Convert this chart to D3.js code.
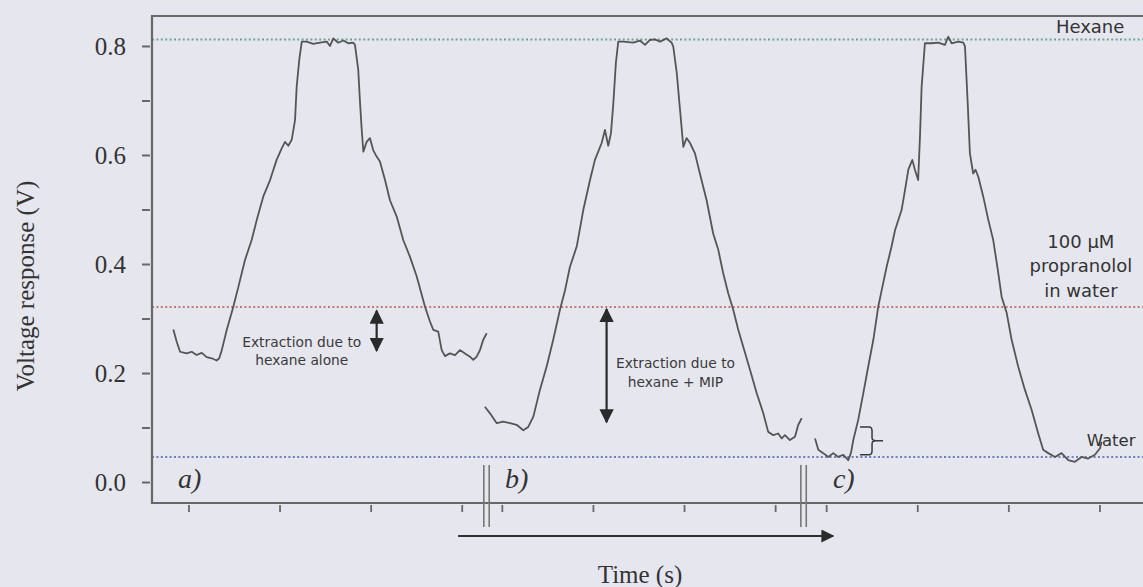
<!DOCTYPE html>
<html>
<head>
<meta charset="utf-8">
<script src="https://cdn.jsdelivr.net/npm/d3@7"></script>
<style>
  html, body { margin: 0; padding: 0; background: #e6e6ee; }
  svg { display: block; }
</style>
</head>
<body>
<svg id="chart" width="1143" height="587"></svg>
<script>
// ---- Sensor trace, run a) hexane alone ----
const timeA = [11.7,13.6,15.4,19.0,21.8,24.5,27.3,30.0,32.8,35.5,36.9,38.3,41.0,44.6,47.4,51.0,54.7,57.5,61.1,64.8,
  68.4,71.2,73.0,74.8,76.7,78.5,79.4,80.8,82.2,
  84.9,88.5,92.2,95.9,97.7,99.5,102.2,105.0,107.7,110.5,
  111.4,113.2,114.2,115.1,116.0,117.8,119.6,121.4,123.3,125.1,127.9,130.6,134.3,137.9,141.6,145.3,149.8,152.6,154.4,157.1,
  159.0,160.8,163.5,166.3,169.0,171.8,174.5,176.3,178.2,180.0,181.8,183.7];
const voltA = [0.280,0.257,0.239,0.236,0.239,0.233,0.237,0.229,0.227,0.223,0.227,0.242,0.279,0.321,0.358,0.407,0.444,0.481,0.524,0.554,
  0.591,0.612,0.624,0.617,0.628,0.664,0.725,0.774,0.808,
  0.808,0.804,0.806,0.808,0.800,0.814,0.806,0.810,0.805,0.806,
  0.802,0.756,0.695,0.646,0.606,0.624,0.631,0.609,0.597,0.588,0.554,0.517,0.487,0.444,0.413,0.377,0.322,0.294,0.279,0.276,
  0.242,0.231,0.236,0.233,0.242,0.236,0.230,0.224,0.230,0.242,0.261,0.273];

// ---- run b) hexane + MIP ----
const timeB = [182.7,185.5,189.2,192.8,196.5,200.1,203.8,206.5,209.3,212.9,216.6,220.2,223.9,226.7,229.4,233.1,236.7,240.4,243.1,246.8,
  248.6,250.4,251.9,253.2,254.6,255.9,
  258.7,264.1,267.8,270.6,273.3,276.0,278.8,282.5,285.2,
  286.1,288.0,289.8,291.6,293.4,295.3,298.0,300.7,304.4,308.0,310.8,313.5,316.3,319.0,321.8,324.5,328.2,331.9,335.5,338.2,
  341.0,343.7,345.6,347.4,350.1,352.9,354.7,356.6];
const voltB = [0.138,0.126,0.108,0.111,0.108,0.105,0.095,0.101,0.120,0.169,0.212,0.261,0.316,0.352,0.395,0.432,0.499,0.554,0.591,0.622,
  0.646,0.617,0.640,0.695,0.769,0.808,
  0.808,0.806,0.810,0.802,0.811,0.812,0.808,0.814,0.806,
  0.799,0.751,0.683,0.615,0.631,0.622,0.603,0.566,0.517,0.456,0.426,0.383,0.346,0.316,0.279,0.248,0.206,0.163,0.126,0.092,
  0.086,0.089,0.080,0.086,0.077,0.083,0.105,0.117];

// ---- run c) ----
const timeC = [363.9,365.7,368.4,371.2,373.9,376.6,379.4,382.1,383.6,384.9,387.6,390.4,393.1,395.9,398.6,400.5,403.2,405.9,407.8,411.4,
  413.3,415.1,417.3,418.7,420.5,421.5,422.4,424.2,
  427.9,431.5,435.2,437.0,438.9,442.5,445.3,
  446.2,447.7,448.9,450.7,452.0,453.5,456.2,459.0,461.7,464.5,466.3,469.1,471.8,475.4,479.1,482.8,486.4,489.1,491.9,495.6,
  499.2,502.9,506.5,510.2,513.8,517.5,520.3,521.2];
const voltC = [0.080,0.059,0.053,0.046,0.053,0.046,0.050,0.040,0.053,0.077,0.114,0.163,0.212,0.261,0.322,0.352,0.395,0.432,0.462,0.499,
  0.536,0.573,0.591,0.573,0.554,0.634,0.725,0.805,
  0.805,0.806,0.802,0.817,0.805,0.808,0.806,
  0.799,0.695,0.603,0.566,0.573,0.560,0.524,0.481,0.444,0.383,0.340,0.310,0.261,0.212,0.169,0.132,0.089,0.059,0.053,0.046,
  0.053,0.040,0.037,0.046,0.043,0.050,0.062,0.074];

// Reference levels (V)
const levelNames  = ["Hexane", "100 µM propranolol in water", "Water"];
const levelValues = [0.812, 0.321, 0.046];
const levelColors = ["#6aa696", "#c7786a", "#6c7fc4"];

// Axis ticks
const yMajorTicks = [0.0, 0.2, 0.4, 0.6, 0.8];
const yMinorTicks = [0.1, 0.3, 0.5, 0.7];
const timeTicks   = [20, 70, 120, 170, 192, 242, 292, 342, 370, 420, 470, 520];
const axisBreaks  = [183.6, 357.6];
const panelLabels = ["a)", "b)", "c)"];
const panelStarts = [14.3, 193.7, 373.7];

// ---- scales ----
const svg = d3.select("#chart");
const x = d3.scaleLinear().domain([0, 545]).range([152, 1145]);
const y = d3.scaleLinear().domain([-0.0385, 0.855]).range([503, 16]);

const serif = "'Liberation Serif', 'Times New Roman', serif";
const sans  = "'DejaVu Sans', sans-serif";
const axisColor = "#686868";

// defs: arrowheads
const defs = svg.append("defs");
defs.append("marker").attr("id", "head").attr("viewBox", "0 0 10 10")
  .attr("refX", 9).attr("refY", 5).attr("markerWidth", 6.5).attr("markerHeight", 6.5)
  .attr("markerUnits", "strokeWidth").attr("orient", "auto-start-reverse")
  .append("path").attr("d", "M0,0 L10,5 L0,10 z").attr("fill", "#2a2a2a");

// reference levels (dotted)
svg.append("g").selectAll("line").data(levelValues).join("line")
  .attr("x1", x(0)).attr("x2", 1143)
  .attr("y1", d => y(d)).attr("y2", d => y(d))
  .attr("stroke", (d, i) => levelColors[i])
  .attr("stroke-width", 2)
  .attr("stroke-dasharray", "2,2.4");

// traces
const line = d3.line().x(d => x(d[0])).y(d => y(d[1]));
const runs = [d3.zip(timeA, voltA), d3.zip(timeB, voltB), d3.zip(timeC, voltC)];
svg.append("g").selectAll("path").data(runs).join("path")
  .attr("d", line)
  .attr("fill", "none")
  .attr("stroke", "#555")
  .attr("stroke-width", 1.8)
  .attr("stroke-linejoin", "round");

// frame (left, top, bottom)
svg.append("path")
  .attr("d", `M1143,${y.range()[1]} H${x(0)} V${y.range()[0]} H1143`)
  .attr("fill", "none").attr("stroke", axisColor).attr("stroke-width", 2.2);

// y axis
const yAxis = d3.axisLeft(y)
  .tickValues(yMajorTicks.concat(yMinorTicks))
  .tickSize(8).tickPadding(16)
  .tickFormat(d => yMajorTicks.includes(d) ? d3.format(".1f")(d) : "");
const gy = svg.append("g").attr("transform", `translate(${x(0) - 2},0)`).call(yAxis);
gy.select(".domain").remove();
gy.selectAll(".tick line").attr("stroke", axisColor).attr("stroke-width", 2);
gy.selectAll(".tick text").attr("font-family", serif).attr("font-size", 25)
  .attr("fill", "#333").attr("dy", "0.34em");

// x axis (unlabelled ticks)
const xAxis = d3.axisBottom(x).tickValues(timeTicks).tickSize(7).tickFormat("");
const gx = svg.append("g").attr("transform", `translate(0,${y.range()[0] + 2})`).call(xAxis);
gx.select(".domain").remove();
gx.selectAll(".tick line").attr("stroke", axisColor).attr("stroke-width", 1.8);

// axis breaks
const yb = y.range()[0];
axisBreaks.forEach(t => {
  [-2.7, 2.7].forEach(off => {
    svg.append("line")
      .attr("x1", x(t) + off).attr("x2", x(t) + off)
      .attr("y1", yb - 38).attr("y2", yb + 24)
      .attr("stroke", "#777").attr("stroke-width", 1.6);
  });
});

// time arrow
svg.append("line")
  .attr("x1", x(168)).attr("x2", x(373.8))
  .attr("y1", 536).attr("y2", 536)
  .attr("stroke", "#2f2f2f").attr("stroke-width", 2)
  .attr("marker-end", "url(#head)");

// panel letters
svg.append("g").selectAll("text").data(panelLabels).join("text")
  .attr("x", (d, i) => x(panelStarts[i]))
  .attr("y", y(-0.011))
  .attr("font-family", serif).attr("font-style", "italic").attr("font-size", 28)
  .attr("fill", "#333")
  .text(d => d);

// axis titles
svg.append("text")
  .attr("transform", "translate(34,286) rotate(-90)")
  .attr("text-anchor", "middle")
  .attr("font-family", serif).attr("font-size", 25).attr("fill", "#333")
  .text("Voltage response (V)");
svg.append("text")
  .attr("x", 640).attr("y", 583)
  .attr("text-anchor", "middle")
  .attr("font-family", serif).attr("font-size", 25).attr("fill", "#333")
  .text("Time (s)");

// double arrows marking the extraction
const extractions = [
  { t: 123.3, top: 0.316, bottom: 0.239, lines: ["Extraction due to", "hexane alone"], tx: 82.2, v1: 0.248, v2: 0.215 },
  { t: 249.5, top: 0.319, bottom: 0.108, lines: ["Extraction due to", "hexane + MIP"], tx: 287.3, v1: 0.209, v2: 0.174 }
];
extractions.forEach(e => {
  svg.append("line")
    .attr("x1", x(e.t)).attr("x2", x(e.t))
    .attr("y1", y(e.top) + 1).attr("y2", y(e.bottom) - 1)
    .attr("stroke", "#2a2a2a").attr("stroke-width", 2.2)
    .attr("marker-start", "url(#head)").attr("marker-end", "url(#head)");
  [e.v1, e.v2].forEach((v, i) => {
    svg.append("text")
      .attr("x", x(e.tx)).attr("y", y(v))
      .attr("text-anchor", "middle")
      .attr("font-family", sans).attr("font-size", 13.8).attr("fill", "#3a3a3a")
      .text(e.lines[i]);
  });
});

// bracket showing the residual offset in run c)
const br = { t: 388.6, low: 0.050, high: 0.101 };
{
  const x0 = x(br.t), yTop = y(br.high), yBot = y(br.low), yMid = (yTop + yBot) / 2;
  const p = d3.path();
  p.moveTo(x0, yTop);
  p.lineTo(x0 + 9, yTop);
  p.quadraticCurveTo(x0 + 12, yTop, x0 + 12, yTop + 4);
  p.lineTo(x0 + 12, yMid - 3);
  p.quadraticCurveTo(x0 + 12, yMid, x0 + 16, yMid);
  p.lineTo(x0 + 23, yMid);
  p.moveTo(x0 + 16, yMid);
  p.quadraticCurveTo(x0 + 12, yMid, x0 + 12, yMid + 3);
  p.lineTo(x0 + 12, yBot - 4);
  p.quadraticCurveTo(x0 + 12, yBot, x0 + 9, yBot);
  p.lineTo(x0, yBot);
  svg.append("path").attr("d", p.toString())
    .attr("fill", "none").attr("stroke", "#3a3a3a").attr("stroke-width", 1.5);
}

// level labels on the right
svg.append("text")
  .attr("x", x(496.1)).attr("y", y(0.823))
  .attr("font-family", sans).attr("font-size", 18).attr("fill", "#333")
  .text(levelNames[0]);
const propLines = ["100 µM", "propranolol", "in water"];
const propBase = [0.429, 0.385, 0.339];
propLines.forEach((s, i) => {
  svg.append("text")
    .attr("x", x(509.8)).attr("y", y(propBase[i]))
    .attr("text-anchor", "middle")
    .attr("font-family", sans).attr("font-size", 18).attr("fill", "#333")
    .text(s);
});
svg.append("text")
  .attr("x", x(513.0)).attr("y", y(0.0666))
  .attr("font-family", sans).attr("font-size", 16.5).attr("fill", "#333")
  .text(levelNames[2]);
</script>
</body>
</html>
